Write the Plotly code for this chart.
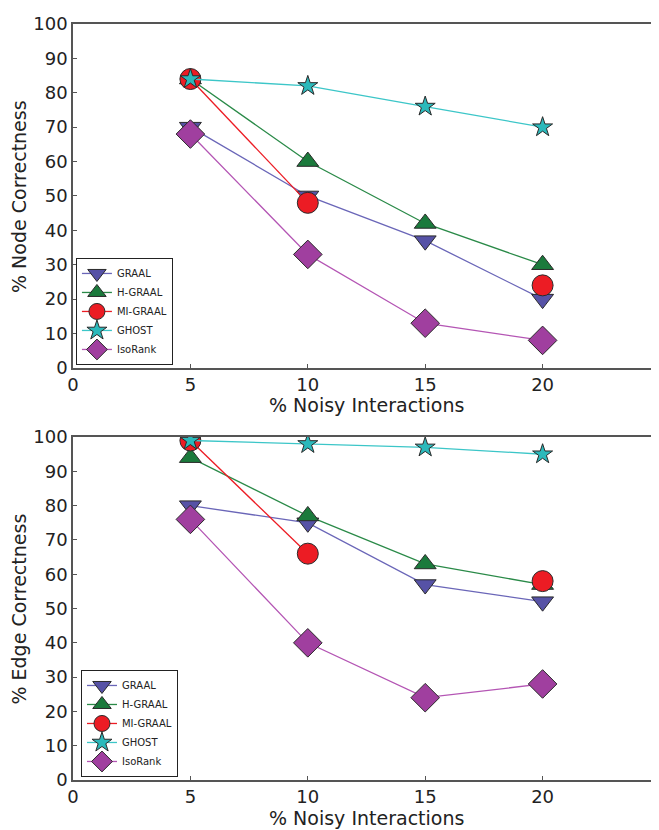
import plotly.graph_objects as go

noise = [5, 10, 15, 20]
methods = ["GRAAL", "H-GRAAL", "MI-GRAAL", "GHOST", "IsoRank"]

# % Node Correctness (top panel)
node_graal = [70, 50, 37, 20]
node_hgraal = [84, 60, 42, 30]
node_migraal = [84, 48, None, 24]
node_ghost = [84, 82, 76, 70]
node_isorank = [68, 33, 13, 8]

# % Edge Correctness (bottom panel)
edge_graal = [80, 75, 57, 52]
edge_hgraal = [94, 77, 63, 57]
edge_migraal = [99, 66, None, 58]
edge_ghost = [99, 98, 97, 95]
edge_isorank = [76, 40, 24, 28]

x_ticks = [0, 5, 10, 15, 20]
y_ticks = list(range(0, 101, 10))

style = {
    "GRAAL":    dict(symbol="triangle-down", size=19, fill="#5652a6", line="#6a66b8"),
    "H-GRAAL":  dict(symbol="triangle-up", size=19, fill="#1b7a3c", line="#2a8a48"),
    "MI-GRAAL": dict(symbol="circle", size=21, fill="#ec1c24", line="#ec1c24"),
    "GHOST":    dict(symbol="star", size=15, fill="#2bb9bb", line="#3cc6c8"),
    "IsoRank":  dict(symbol="diamond", size=22, fill="#a03f9f", line="#b455b4"),
}

node = [node_graal, node_hgraal, node_migraal, node_ghost, node_isorank]
edge = [edge_graal, edge_hgraal, edge_migraal, edge_ghost, edge_isorank]

fig = go.Figure()

for data, xa, ya, leg in [(node, "x", "y", "legend"), (edge, "x2", "y2", "legend2")]:
    for name, vals in zip(methods, data):
        s = style[name]
        fig.add_trace(go.Scatter(
            x=noise, y=vals, name=name, mode="lines+markers",
            connectgaps=False, xaxis=xa, yaxis=ya, legend=leg,
            line=dict(color=s["line"], width=1.3),
            marker=dict(symbol=s["symbol"], size=s["size"], color=s["fill"],
                        line=dict(color="#2a2a2a", width=1)),
        ))

axis_common = dict(
    showline=True, mirror=True, linecolor="#555555", linewidth=1.5,
    ticks="inside", ticklen=4, tickcolor="#555555", showgrid=False,
    zeroline=False, tickfont=dict(size=18, color="#222222"),
)

legend_common = dict(
    xanchor="left", yanchor="bottom", bgcolor="white",
    bordercolor="#222222", borderwidth=1,
    font=dict(size=10, color="#222222", family="DejaVu Sans"),
    tracegroupgap=0, itemwidth=30,
)

fig.update_layout(
    width=659, height=830,
    margin=dict(l=65, r=5, t=7, b=58),
    paper_bgcolor="white", plot_bgcolor="white",
    font=dict(family="DejaVu Sans", color="#222222"),
    xaxis=dict(domain=[0, 1], anchor="y", range=[0, 25], tickvals=x_ticks, **axis_common),
    yaxis=dict(domain=[0.5451, 1], anchor="x", range=[0, 100], tickvals=y_ticks, **axis_common),
    xaxis2=dict(domain=[0, 1], anchor="y2", range=[0, 25], tickvals=x_ticks, **axis_common),
    yaxis2=dict(domain=[0, 0.4536], anchor="x2", range=[0, 100], tickvals=y_ticks, **axis_common),
    legend=dict(x=0.005, y=0.549, **legend_common),
    legend2=dict(x=0.0136, y=0.004, **legend_common),
)

# axis titles placed tight under the tick labels, as in the original
titles = [
    ("% Noisy Interactions", 0.5, 0.4954, 0),
    ("% Noisy Interactions", 0.5, -0.0497, 0),
    ("% Node Correctness", -0.092, 0.7725, -90),
    ("% Edge Correctness", -0.092, 0.2268, -90),
]
for text, x, y, ang in titles:
    fig.add_annotation(text=text, x=x, y=y, xref="paper", yref="paper",
                       xanchor="center", yanchor="middle", textangle=ang,
                       showarrow=False, font=dict(size=19, color="#222222"))

fig.write_html("out.html")
